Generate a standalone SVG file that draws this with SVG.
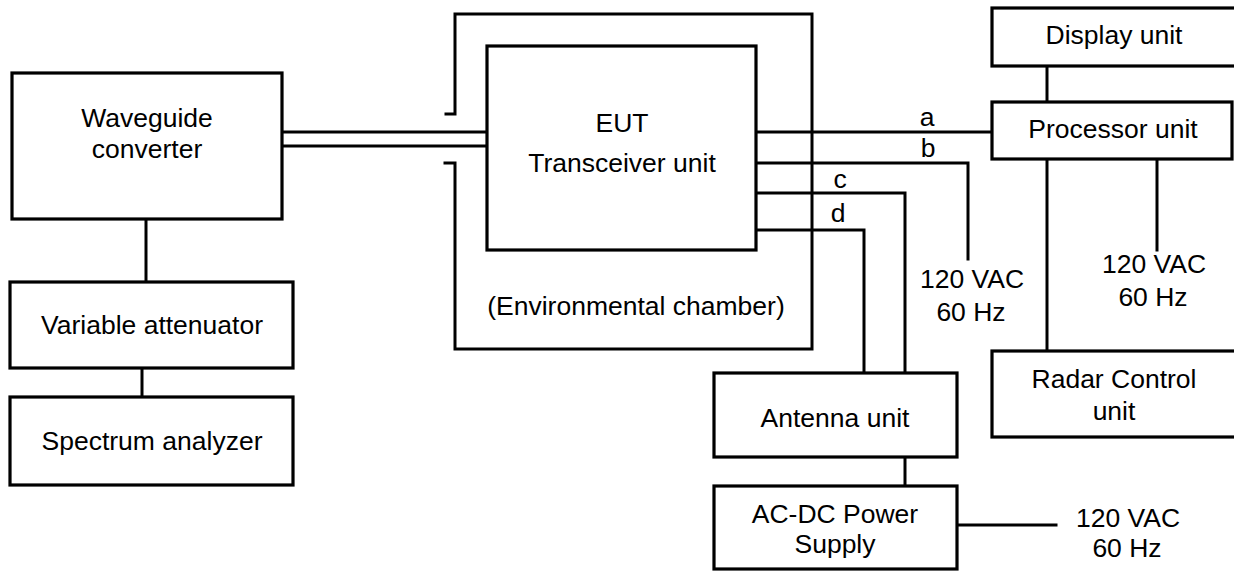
<svg xmlns="http://www.w3.org/2000/svg" width="1234" height="571" viewBox="0 0 1234 571">
<style>
.box{fill:#fff;stroke:#000;stroke-width:3.2}
.ln{fill:none;stroke:#000;stroke-width:3;stroke-linecap:square}
text{font-family:"Liberation Sans",Arial,sans-serif;font-size:26.5px;fill:#000;text-anchor:middle}
</style>
<rect width="1234" height="571" fill="#fff"/>
<g id="connectors">
<path class="ln" d="M146,219 V282"/>
<path class="ln" d="M142,368 V397"/>
<path class="ln" d="M282,132 H487 M282,146 H487"/>
<path class="ln" d="M756,132 H992"/>
<path class="ln" d="M756,163 H968 V259"/>
<path class="ln" d="M756,193 H905 V373"/>
<path class="ln" d="M756,230 H864 V373"/>
<path class="ln" d="M1047,66 V102"/>
<path class="ln" d="M1047,159 V351"/>
<path class="ln" d="M1157,159 V250"/>
<path class="ln" d="M905,457 V486"/>
<path class="ln" d="M957,525 H1056"/>
<text x="927" y="126">a</text>
<text x="928" y="157">b</text>
<text x="840" y="188">c</text>
<text x="838" y="222">d</text>
</g>
<g id="chamber">
<path class="ln" d="M446,114 H455 V14 H812 V349 H455 V163 H445" stroke-linecap="butt"/>
<text x="636" y="315">(Environmental chamber)</text>
</g>
<g id="waveguide">
<rect class="box" x="12" y="73" width="270" height="146"/>
<text x="147" y="127">Waveguide</text>
<text x="147" y="158">converter</text>
</g>
<g id="attenuator">
<rect class="box" x="10" y="282" width="283" height="86"/>
<text x="152" y="334">Variable attenuator</text>
</g>
<g id="analyzer">
<rect class="box" x="10" y="397" width="283" height="88"/>
<text x="152" y="450">Spectrum analyzer</text>
</g>
<g id="eut">
<rect class="box" x="487" y="46" width="269" height="204"/>
<text x="622" y="132">EUT</text>
<text x="622" y="172">Transceiver unit</text>
</g>
<g id="display">
<rect class="box" x="992" y="8" width="250" height="58"/>
<text x="1114" y="44">Display unit</text>
</g>
<g id="processor">
<rect class="box" x="992" y="102" width="240" height="57"/>
<text x="1113" y="138">Processor unit</text>
</g>
<g id="radar">
<rect class="box" x="992" y="351" width="250" height="86"/>
<text x="1114" y="388">Radar Control</text>
<text x="1114" y="420">unit</text>
</g>
<g id="antenna">
<rect class="box" x="714" y="373" width="243" height="84"/>
<text x="835" y="427">Antenna unit</text>
</g>
<g id="psu">
<rect class="box" x="714" y="486" width="243" height="83"/>
<text x="835" y="523">AC-DC Power</text>
<text x="835" y="553">Supply</text>
</g>
<g id="power-labels">
<text x="972" y="288">120 VAC</text>
<text x="971" y="321">60 Hz</text>
<text x="1154" y="273">120 VAC</text>
<text x="1153" y="306">60 Hz</text>
<text x="1128" y="527">120 VAC</text>
<text x="1127" y="557">60 Hz</text>
</g>
</svg>
